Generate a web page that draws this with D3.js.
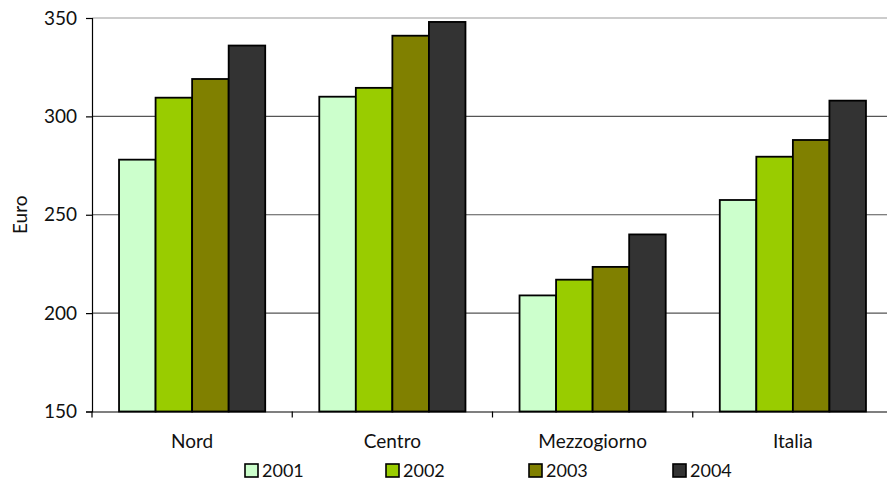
<!DOCTYPE html>
<html>
<head>
<meta charset="utf-8">
<script src="https://cdn.jsdelivr.net/npm/d3@7"></script>
<style>
  html, body { margin: 0; padding: 0; background: #fff; }
  svg { display: block; font-family: Lato, "Open Sans", sans-serif; }
</style>
</head>
<body>
<svg id="chart" width="887" height="481"></svg>
<script>
// Spesa media mensile per area geografica, 2001-2004 (euro)
const categories = ["Nord", "Centro", "Mezzogiorno", "Italia"];
const years = ["2001", "2002", "2003", "2004"];
const values2001 = [278, 310, 209, 257.5];
const values2002 = [309.5, 314.5, 217, 279.5];
const values2003 = [319, 341, 223.5, 288];
const values2004 = [336, 348, 240, 308];
const yTicks = [150, 200, 250, 300, 350];
const colors = ["#CCFFCC", "#99CC00", "#808000", "#333333"];

const series = [values2001, values2002, values2003, values2004];

const svg = d3.select("#chart");
const plotLeft = 92, plotRight = 893, plotTop = 18, plotBottom = 411.5;
const fontSize = 19;

const x = d3.scaleBand().domain(categories).range([plotLeft, plotRight]).padding(0);
const bw = x.bandwidth();
const xi = d3.scaleBand().domain(years).range([bw * 0.135, bw * 0.865]).padding(0);
const y = d3.scaleLinear().domain([150, 350]).range([plotBottom, plotTop]);

// horizontal gridlines
svg.append("g")
  .selectAll("line")
  .data(yTicks.slice(1))
  .join("line")
  .attr("x1", plotLeft).attr("x2", plotRight)
  .attr("y1", d => y(d)).attr("y2", d => y(d))
  .attr("stroke", d => d === 350 ? "#999" : "#555")
  .attr("stroke-width", 1.2);

// bars
const groups = svg.append("g")
  .selectAll("g")
  .data(categories)
  .join("g")
  .attr("transform", d => `translate(${x(d)},0)`);

groups.selectAll("rect")
  .data((c, ci) => years.map((yr, si) => ({ yr, si, v: series[si][ci] })))
  .join("rect")
  .attr("x", d => xi(d.yr))
  .attr("width", xi.bandwidth())
  .attr("y", d => y(d.v))
  .attr("height", d => y(150) - y(d.v))
  .attr("fill", d => colors[d.si])
  .attr("stroke", "#000")
  .attr("stroke-width", 1.8);

// y axis
const yAxis = d3.axisLeft(y).tickValues(yTicks).tickSize(6).tickPadding(9).tickFormat(d3.format("d"));
const ga = svg.append("g").attr("transform", `translate(${plotLeft},0)`).call(yAxis);
ga.select(".domain").attr("stroke", "#000").attr("stroke-width", 1.2);
ga.selectAll(".tick line").attr("stroke", "#000").attr("stroke-width", 1.2);
ga.selectAll(".tick text").attr("font-size", fontSize).attr("fill", "#111").style("font-family", "Lato, sans-serif");

// x axis
const xAxis = d3.axisBottom(x).tickSize(0).tickPadding(23);
const gx = svg.append("g").attr("transform", `translate(0,${plotBottom})`).call(xAxis);
gx.select(".domain").attr("stroke", "#000").attr("stroke-width", 1.2);
gx.selectAll(".tick text").attr("font-size", fontSize).attr("fill", "#111").style("font-family", "Lato, sans-serif");
// category separators
gx.append("g").selectAll("line")
  .data(categories.map(c => x(c)).concat([plotRight]))
  .join("line")
  .attr("x1", d => d).attr("x2", d => d)
  .attr("y1", 0).attr("y2", 6)
  .attr("stroke", "#000").attr("stroke-width", 1.2);

// axis title
svg.append("text")
  .attr("transform", `translate(27,${(plotTop + plotBottom) / 2}) rotate(-90)`)
  .attr("text-anchor", "middle")
  .attr("font-size", fontSize)
  .attr("fill", "#111")
  .text("Euro");

// legend
const legendX = [245, 386, 529, 673];
const leg = svg.append("g")
  .selectAll("g")
  .data(years)
  .join("g")
  .attr("transform", (d, i) => `translate(${legendX[i]},464)`);
leg.append("rect")
  .attr("width", 13).attr("height", 13)
  .attr("fill", (d, i) => colors[i])
  .attr("stroke", "#000").attr("stroke-width", 1.6);
leg.append("text")
  .attr("x", 17).attr("y", 12.5)
  .attr("font-size", 18)
  .attr("fill", "#111")
  .text(d => d);
</script>
</body>
</html>
